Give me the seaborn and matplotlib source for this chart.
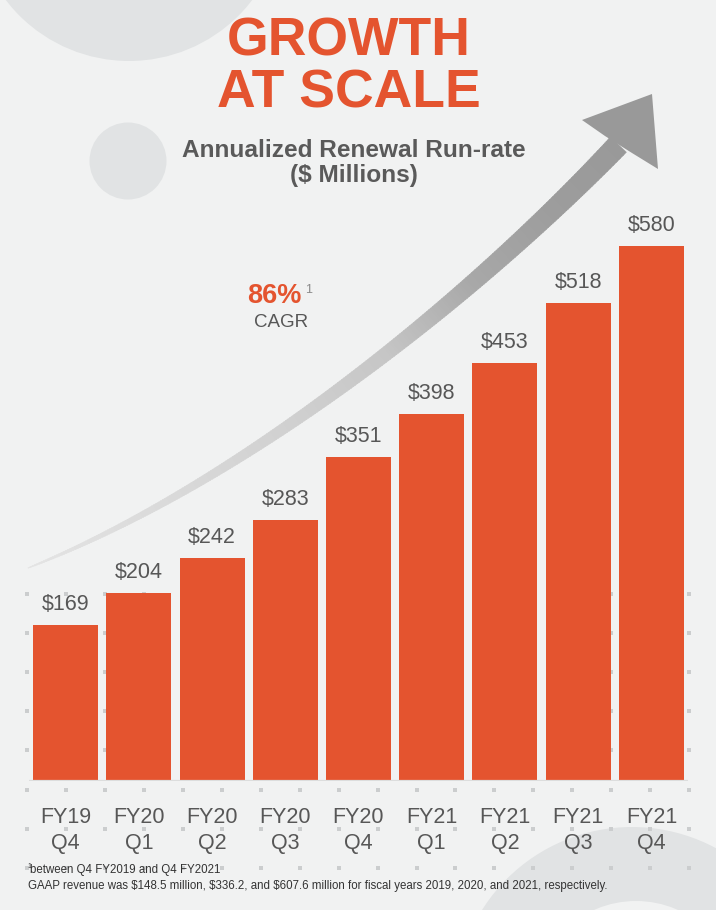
import numpy as np
import pandas as pd
import matplotlib
matplotlib.use("Agg")
import matplotlib.pyplot as plt
from matplotlib.patches import Circle, Polygon
from matplotlib.collections import PolyCollection
import seaborn as sns

# ---------------- data ----------------
quarters = ["FY19\nQ4", "FY20\nQ1", "FY20\nQ2", "FY20\nQ3", "FY20\nQ4",
            "FY21\nQ1", "FY21\nQ2", "FY21\nQ3", "FY21\nQ4"]
arr_values = [169, 204, 242, 283, 351, 398, 453, 518, 580]
value_labels = [f"${v}" for v in arr_values]
title_lines = ["GROWTH", "AT SCALE"]
subtitle_lines = ["Annualized Renewal Run-rate", "($ Millions)"]
cagr_value = "86%"
cagr_label = "CAGR"
footnote_1 = "between Q4 FY2019 and Q4 FY2021"
footnote_2 = ("GAAP revenue was $148.5 million, $336.2, and $607.6 million for "
              "fiscal years 2019, 2020, and 2021, respectively.")

# ---------------- style ----------------
ORANGE = "#e4542f"
BG = "#f1f2f2"
SHAPE = "#e1e3e4"
TXT = "#575757"

plt.rcParams['font.family'] = ['Liberation Sans', 'DejaVu Sans']

W, H = 716, 910
fig = plt.figure(figsize=(W / 100, H / 100), dpi=100, facecolor=BG)

# background decoration layer in pixel coordinates
bg = fig.add_axes([0, 0, 1, 1], zorder=0)
bg.set_xlim(0, W)
bg.set_ylim(H, 0)
bg.axis("off")
bg.set_facecolor(BG)

bg.add_patch(Circle((129, -94), 155, color=SHAPE, lw=0, zorder=0))
bg.add_patch(Circle((128, 161), 38.5, color=SHAPE, lw=0, zorder=0))
bg.add_patch(Circle((632, 1004), 177, color=SHAPE, lw=0, zorder=0))
bg.add_patch(Circle((636, 1004), 103, color=BG, lw=0, zorder=0.1))

# dotted grid
gx = 27 + 38.95 * np.arange(18)
gy = 594 + 39.1 * np.arange(8)
GX, GY = np.meshgrid(gx, gy)
bg.scatter(GX.ravel(), GY.ravel(), marker="s", s=9, color="#cbcdce",
           linewidths=0, zorder=0.5)

# curved growth arrow (decoration)
P0, P1, P2, P3 = map(np.array, [(28, 568), (250, 480), (480, 290), (618, 145)])
t = np.linspace(0, 1, 300)
pts = ((1 - t) ** 3)[:, None] * P0 + (3 * (1 - t) ** 2 * t)[:, None] * P1 \
    + (3 * (1 - t) * t ** 2)[:, None] * P2 + (t ** 3)[:, None] * P3
d = np.gradient(pts, axis=0)
d /= np.linalg.norm(d, axis=1)[:, None]
nrm = np.column_stack([-d[:, 1], d[:, 0]])
wid = 0.6 + 21.5 * t ** 0.8
left = pts + nrm * (wid / 2)[:, None]
right = pts - nrm * (wid / 2)[:, None]
tk = [0, 0.4, 0.55, 0.7, 0.85, 1.0]
vk = [228, 208, 198, 168, 157, 153]
quads, cols = [], []
for i in range(len(t) - 1):
    quads.append([left[i], left[i + 1] + d[i] * 0.6, right[i + 1] + d[i] * 0.6, right[i]])
    v = np.interp(t[i], tk, vk) / 255
    cols.append((v, v, v))
bg.add_collection(PolyCollection(quads, facecolors=cols, edgecolors=cols,
                                 linewidths=0.3, zorder=1))
bg.add_patch(Polygon([(605, 136), (582, 120), (652, 94), (658, 169), (632, 153)],
                     closed=True, color="#999999", lw=0, zorder=1.1))

# titles
for txt, yb in zip(title_lines, [56, 108]):
    bg.text(349, yb, txt, ha="center", va="baseline", fontsize=38.5,
            fontweight="bold", color=ORANGE, zorder=3)
for txt, yb in zip(subtitle_lines, [157, 182]):
    bg.text(353.5, yb, txt, ha="center", va="baseline", fontsize=17.6,
            fontweight="bold", color="#5a5a5a", zorder=3)

bg.text(302, 303, cagr_value, ha="right", va="baseline", fontsize=19.5,
        fontweight="bold", color=ORANGE, zorder=3)
bg.text(305, 293, "1", ha="left", va="baseline", fontsize=9,
        color="#8a8a8a", zorder=3)
bg.text(281, 327, cagr_label, ha="center", va="baseline", fontsize=13.5,
        color=TXT, zorder=3)

bg.text(27, 868, "1", ha="left", va="baseline", fontsize=5, color="#333333", zorder=3)
bg.text(30.5, 873, footnote_1, ha="left", va="baseline", fontsize=8.3,
        color="#333333", zorder=3)
bg.text(28, 889, footnote_2, ha="left", va="baseline", fontsize=8.3,
        color="#333333", zorder=3)

# ---------------- bar chart ----------------
base_px, top_px = 781, 200
x0_px, x1_px = 28.9, 688.1
ax = fig.add_axes([x0_px / W, (H - base_px) / H, (x1_px - x0_px) / W,
                   (base_px - top_px) / H], zorder=2)
ax.patch.set_alpha(0)

df = pd.DataFrame({"quarter": quarters, "arr": arr_values})
sns.barplot(data=df, x="quarter", y="arr", color=ORANGE, saturation=1,
            width=65 / 73.25, ax=ax, zorder=2)
ax.set_xlim(-0.5, len(quarters) - 0.5)
ax.set_ylim(0, (base_px - top_px) / 0.9225)
ax.bar_label(ax.containers[0], labels=value_labels, padding=7,
             fontsize=15.5, color=TXT)
ax.axhline(0, color="#dcdddd", lw=1.6, zorder=3)

for s in ax.spines.values():
    s.set_visible(False)
ax.set_yticks([])
ax.set_xlabel("")
ax.set_ylabel("")
ax.tick_params(axis="x", length=0, pad=19, labelsize=15.5, labelcolor=TXT)
for lbl in ax.get_xticklabels():
    lbl.set_linespacing(1.27)
ax.grid(False)

fig.savefig("out.png", dpi=100, facecolor=BG)
